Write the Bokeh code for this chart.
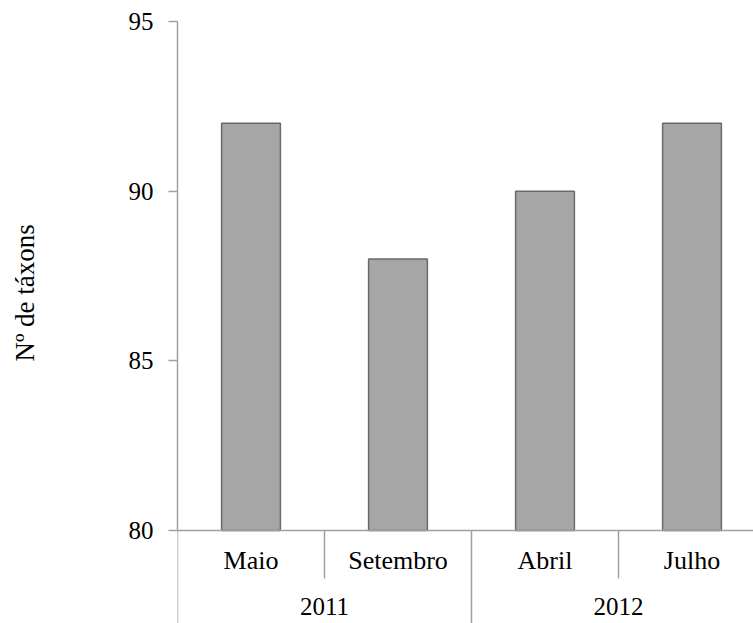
from bokeh.plotting import figure
from bokeh.models import Range1d, FixedTicker, ColumnDataSource, LinearAxis, Title
from bokeh.core.properties import value
from bokeh.embed import file_html
from bokeh.resources import INLINE

# ---- data ----
years = ["2011", "2012"]
months_per_year = [2, 2]
categories = ["Maio", "Setembro", "Abril", "Julho"]
taxa = [92, 88, 90, 92]
y_ticks = [80, 85, 90, 95]
y_label = "Nº de táxons"

FONT = "Liberation Serif"
GREY = "#a0a0a0"

# ---- geometry of the frame (pixels) ----
W, H = 753, 623
left_b, top_b = 177, 21
frame_w = W - left_b
frame_h = H - top_b
px_per_cat = 147.0
px_per_unit = 33.93
y_top = 95
y_bottom = y_top - frame_h / px_per_unit

p = figure(width=W, height=H, output_backend="svg", toolbar_location=None,
           x_range=Range1d(0, frame_w / px_per_cat),
           y_range=Range1d(y_bottom, y_top),
           min_border_left=left_b, min_border_right=0,
           min_border_top=top_b, min_border_bottom=0,
           x_axis_location=None, y_axis_location=None)
p.outline_line_color = None
p.xgrid.visible = False
p.ygrid.visible = False
p.background_fill_color = "white"
p.border_fill_color = "white"

yaxis = LinearAxis(bounds=(min(y_ticks), max(y_ticks)),
                   ticker=FixedTicker(ticks=y_ticks))
yaxis.axis_line_color = GREY
yaxis.axis_line_width = 1.5
yaxis.major_tick_line_color = GREY
yaxis.major_tick_line_width = 1.5
yaxis.major_tick_out = 9
yaxis.major_tick_in = 0
yaxis.minor_tick_line_color = None
yaxis.major_label_standoff = 15
yaxis.major_label_text_font = FONT
yaxis.major_label_text_font_size = "25px"
yaxis.major_label_text_color = "black"
# blank spacer label to push the y title outwards
yaxis.axis_label = " "
yaxis.axis_label_text_font_size = "1px"
yaxis.axis_label_standoff = 77
p.add_layout(yaxis, "left")

ytitle = Title(text=y_label, align="left", offset=262, standoff=10,
               vertical_align="bottom",
               text_font=FONT, text_font_size="27px", text_font_style="normal",
               text_color="black")
p.add_layout(ytitle, "left")

x_centers = [i + 0.5 for i in range(len(categories))]
src = ColumnDataSource(dict(x=x_centers, top=taxa, cat=categories))
p.vbar(x="x", top="top", bottom=min(y_ticks), width=0.4, source=src,
       fill_color="#a6a6a6", line_color="#6a6a6a", line_width=1.5)

# x axis baseline
base = min(y_ticks)
p.segment(x0=[0], y0=[base], x1=[len(categories)], y1=[base],
          line_color=GREY, line_width=1.5)

# separators
inner_len = 48 / px_per_unit
group_edges = [0]
for n in months_per_year:
    group_edges.append(group_edges[-1] + n)
inner = [i for i in range(1, len(categories)) if i not in group_edges]
p.segment(x0=inner, y0=[base] * len(inner), x1=inner,
          y1=[base - inner_len] * len(inner), line_color=GREY, line_width=1.5)
p.segment(x0=group_edges, y0=[base] * len(group_edges), x1=group_edges,
          y1=[y_bottom] * len(group_edges), line_color=GREY, line_width=1.5)

# category labels
p.text(x="x", y=base, text="cat", source=src, y_offset=30,
       text_font=value(FONT), text_font_size="26px", text_color="black",
       text_align="center", text_baseline="alphabetic")

# year labels
year_centers = [(group_edges[i] + group_edges[i + 1]) / 2 for i in range(len(years))]
p.text(x=year_centers, y=[base] * len(years), text=years, y_offset=76,
       text_font=value(FONT), text_font_size="25px", text_color="black",
       text_align="center", text_baseline="alphabetic")

open("out.html", "w").write(file_html(p, INLINE))
